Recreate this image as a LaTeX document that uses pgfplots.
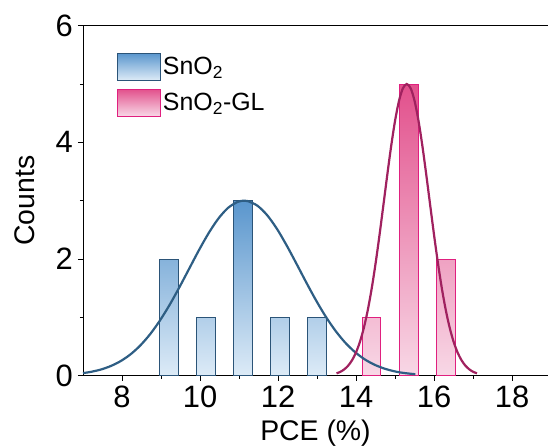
\documentclass[border=0pt]{standalone}
\usepackage{pgfplots}
\pgfplotsset{compat=1.18}
\usepackage{fontspec}
\setmainfont{Liberation Sans}
\definecolor{bluetop}{HTML}{5A96CD}
\definecolor{bluebot}{HTML}{DDEBF7}
\definecolor{blueedge}{HTML}{2B5478}
\definecolor{bluecurve}{HTML}{2E5E84}
\definecolor{pinktop}{HTML}{E2508C}
\definecolor{pinkbot}{HTML}{F8D8E6}
\definecolor{pinkedge}{HTML}{E0207F}
\definecolor{pinkcurve}{HTML}{A0215F}
\begin{document}
\begin{tikzpicture}
\begin{axis}[
  scale only axis,
  width=465bp, height=350bp,
  xmin=7, xmax=18.92, ymin=0, ymax=6,
  axis x line*=bottom, axis y line*=left,
  axis line style={line width=0.9bp, black},
  xtick={8,10,12,14,16,18}, minor xtick={9,11,13,15,17},
  ytick={0,2,4,6}, minor ytick={1,3,5},
  tick align=outside,
  major tick length=5bp, minor tick length=3bp,
  every tick/.style={black, line width=0.9bp},
  /pgf/number format/assume math mode=true,
  tick label style={font=\fontsize{31}{31}\selectfont},
  xticklabel style={anchor=base, inner sep=0pt, yshift=-27bp},
  yticklabel style={anchor=east, inner sep=0pt, xshift=-5bp},
  xlabel={PCE (\%)}, ylabel={Counts},
  every axis x label/.style={at={(rel axis cs:0.5,0)}, anchor=base, yshift=-65bp, inner sep=0pt, font=\fontsize{28.5}{28.5}\selectfont},
  every axis y label/.style={at={(rel axis cs:0,0.5)}, xshift=-58bp, rotate=90, anchor=center, inner sep=0pt, font=\fontsize{28.5}{28.5}\selectfont},
  legend style={draw=none, fill=none, at={(rel axis cs:0,1)}, anchor=north west,
    xshift=34bp, yshift=-27bp, font=\fontsize{25}{25}\selectfont,
    row sep=8bp, inner sep=0pt,
    legend cell align=left},
  legend image code/.code={\draw[#1] (0bp,-13.5bp) rectangle (43bp,13.5bp);},
  extra description/.code={
    \draw[line width=0.9bp, black] (rel axis cs:0,1) -- (rel axis cs:1,1);
    \coordinate (ll) at (rel axis cs:0,0);
    \coordinate (ur) at (rel axis cs:1,1);
  },
]
\addplot[ybar, bar width=0.47, draw=blueedge, line width=0.8bp, top color=bluetop, bottom color=bluebot]
  coordinates {(9.2,2) (10.15,1) (11.1,3) (12.05,1) (13.0,1)};
\addlegendentry{SnO\textsubscript{2}}
\addplot[ybar, bar width=0.47, draw=pinkedge, line width=0.8bp, top color=pinktop, bottom color=pinkbot]
  coordinates {(14.4,1) (15.35,5) (16.3,2)};
\addlegendentry{SnO\textsubscript{2}-GL}
\addplot[smooth, bluecurve, line width=2.2bp, forget plot] coordinates {
(7.00,0.044) (7.22,0.068) (7.47,0.108) (7.72,0.168) (7.97,0.252) (8.22,0.367) (8.47,0.519) (8.72,0.711) (8.97,0.944) (9.22,1.214) (9.47,1.515) (9.72,1.832) (9.97,2.149) (10.22,2.443) (10.47,2.693) (10.72,2.878) (10.97,2.981) (11.13,3.0) (11.22,2.994) (11.47,2.915) (11.72,2.752) (11.97,2.519) (12.22,2.234) (12.47,1.922) (12.72,1.603) (12.97,1.296) (13.22,1.016) (13.47,0.772) (13.72,0.568) (13.97,0.406) (14.22,0.281) (14.47,0.189) (14.72,0.123) (14.97,0.077) (15.22,0.047) (15.52,0.025)};
\addplot[smooth, pinkcurve, line width=2.2bp, forget plot] coordinates {
(13.5,0.040) (13.6,0.067) (13.7,0.110) (13.8,0.174) (13.9,0.268) (14.0,0.401) (14.1,0.583) (14.2,0.822) (14.3,1.124) (14.4,1.493) (14.5,1.924) (14.6,2.407) (14.7,2.922) (14.8,3.443) (14.9,3.938) (15.0,4.372) (15.1,4.710) (15.2,4.926) (15.3,5.0) (15.4,4.926) (15.5,4.710) (15.6,4.372) (15.7,3.938) (15.8,3.443) (15.9,2.922) (16.0,2.407) (16.1,1.924) (16.2,1.493) (16.3,1.124) (16.4,0.822) (16.5,0.583) (16.6,0.401) (16.7,0.268) (16.8,0.174) (16.9,0.110) (17.0,0.067) (17.1,0.040)};
\end{axis}
\pgfresetboundingbox
\path[use as bounding box] ([shift={(-83bp,-71.3bp)}]ll) rectangle ([shift={(0bp,25.7bp)}]ur);
\end{tikzpicture}
\end{document}
